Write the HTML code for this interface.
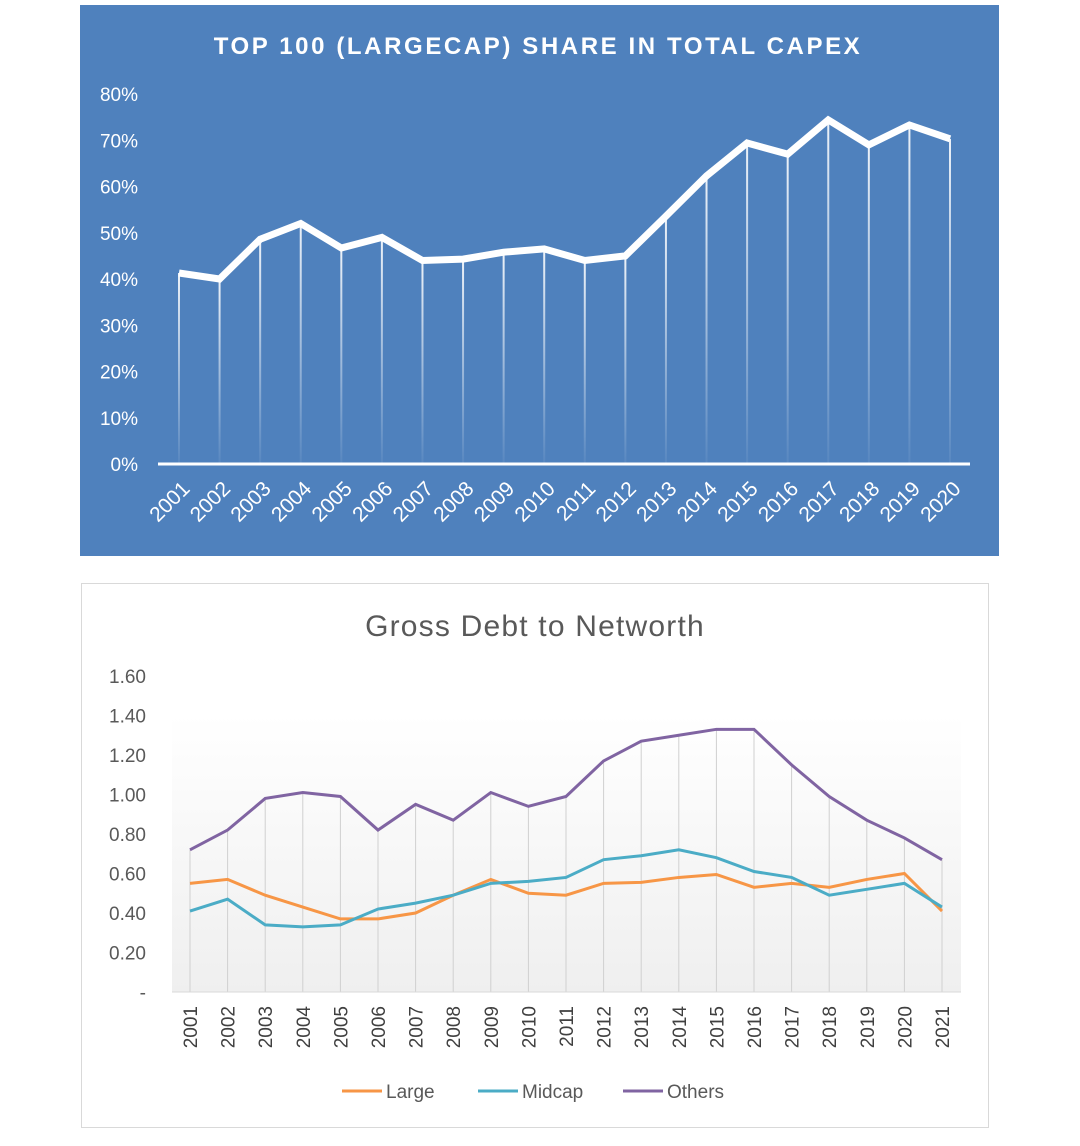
<!DOCTYPE html>
<html><head><meta charset="utf-8"><style>
body{margin:0;background:#fff;width:1080px;height:1146px;overflow:hidden;font-family:"Liberation Sans",sans-serif}
svg{position:absolute;left:0;top:0}
</style></head><body>
<svg id="s" width="1080" height="1146" xmlns="http://www.w3.org/2000/svg">
<defs>
<linearGradient id="drop" x1="0" y1="0" x2="0" y2="1"><stop offset="0" stop-color="#fff" stop-opacity="0.9"/><stop offset="1" stop-color="#fff" stop-opacity="0.05"/></linearGradient>
<linearGradient id="plotbg" x1="0" y1="0" x2="0" y2="1"><stop offset="0" stop-color="#fff"/><stop offset="1" stop-color="#efefef"/></linearGradient>
</defs>
<rect x="80" y="5" width="919" height="551" fill="#4f81bd"/>
<text x="538" y="54" text-anchor="middle" fill="#fff" font-size="24" font-weight="bold" letter-spacing="2.6">TOP 100 (LARGECAP) SHARE IN TOTAL CAPEX</text>
<g id="top"></g>
<rect x="81.5" y="583.5" width="907" height="544" fill="#fff" stroke="#d9d9d9"/>
<text x="535" y="636" text-anchor="middle" fill="#595959" font-size="30" letter-spacing="1.2">Gross Debt to Networth</text>
<rect x="172" y="715" width="789" height="277" fill="url(#plotbg)"/>
<g id="bot"></g>
</svg>
<script>
const NS='http://www.w3.org/2000/svg';
function mk(p,t,a){const e=document.createElementNS(NS,t);for(const k in a)e.setAttribute(k,a[k]);p.appendChild(e);return e;}
// Top chart data
const topYears=['2001','2002','2003','2004','2005','2006','2007','2008','2009','2010','2011','2012','2013','2014','2015','2016','2017','2018','2019','2020'];
const topShare=[41.3,40,48.6,52,46.7,49,44,44.3,45.8,46.5,44,45,53.6,62.3,69.4,67,74.4,69,73.3,70.3];
const topTicks=[0,10,20,30,40,50,60,70,80];
const tg=document.getElementById('top');
const tx=i=>179+i*(950-179)/(topYears.length-1);
const ty=v=>464-v*4.625;
topTicks.forEach(v=>{const t=mk(tg,'text',{x:138,y:ty(v)+7,'text-anchor':'end',fill:'#fff','font-size':19});t.textContent=v+'%';

});
topShare.forEach((v,i)=>{const l=mk(tg,'rect',{x:tx(i)-1,y:ty(v),width:2,height:464-ty(v),fill:'url(#drop)'});

});
const ax=mk(tg,'line',{x1:158,x2:970,y1:464,y2:464,stroke:'#fff','stroke-width':3});


const tl=mk(tg,'polyline',{points:topShare.map((v,i)=>tx(i)+','+ty(v)).join(' '),fill:'none',stroke:'#fff','stroke-width':7,'stroke-linejoin':'miter'});


topYears.forEach((y,i)=>{const x=tx(i)+12,yy=490;const t=mk(tg,'text',{x:x,y:yy,'text-anchor':'end',fill:'#fff','font-size':21,transform:`rotate(-45 ${x} ${yy})`});t.textContent=y;

});
// Bottom chart data
const botYears=['2001','2002','2003','2004','2005','2006','2007','2008','2009','2010','2011','2012','2013','2014','2015','2016','2017','2018','2019','2020','2021'];
const large=[0.55,0.57,0.49,0.43,0.37,0.37,0.40,0.49,0.57,0.50,0.49,0.55,0.555,0.58,0.595,0.53,0.55,0.53,0.57,0.60,0.41];
const midcap=[0.41,0.47,0.34,0.33,0.34,0.42,0.45,0.49,0.55,0.56,0.58,0.67,0.69,0.72,0.68,0.61,0.58,0.49,0.52,0.55,0.43];
const others=[0.72,0.82,0.98,1.01,0.99,0.82,0.95,0.87,1.01,0.94,0.99,1.17,1.27,1.30,1.33,1.33,1.15,0.99,0.87,0.78,0.67];
const botTicks=[0,0.2,0.4,0.6,0.8,1.0,1.2,1.4,1.6];
const bg=document.getElementById('bot');
const bx=i=>190+i*(942-190)/(botYears.length-1);
const by=v=>992-v*197.5;
botTicks.forEach(v=>{const t=mk(bg,'text',{x:146,y:by(v)+7,'text-anchor':'end',fill:'#595959','font-size':19});t.textContent=v===0?'-':v.toFixed(2);

});
others.forEach((v,i)=>{const l=mk(bg,'line',{x1:bx(i),x2:bx(i),y1:by(v),y2:992,stroke:'#d0d0d0','stroke-width':1});

});
const bax=mk(bg,'line',{x1:172,x2:961,y1:992,y2:992,stroke:'#d9d9d9','stroke-width':1});


[[large,'#f79646','large-line'],[midcap,'#4bacc6','midcap-line'],[others,'#8064a2','others-line']].forEach(([d,c,n])=>{
const p=mk(bg,'polyline',{points:d.map((v,i)=>bx(i)+','+by(v)).join(' '),fill:'none',stroke:c,'stroke-width':3});

});
botYears.forEach((y,i)=>{const x=bx(i)+7,yy=1006;const t=mk(bg,'text',{x:x,y:yy,'text-anchor':'end',fill:'#404040','font-size':19,transform:`rotate(-90 ${x} ${yy})`});t.textContent=y;

});
[['Large','#f79646',342],['Midcap','#4bacc6',478],['Others','#8064a2',623]].forEach(([n,c,x])=>{
const l=mk(bg,'line',{x1:x,x2:x+40,y1:1091,y2:1091,stroke:c,'stroke-width':3});


const t=mk(bg,'text',{x:x+44,y:1098,fill:'#595959','font-size':19});t.textContent=n;

});
</script>
</body></html>
